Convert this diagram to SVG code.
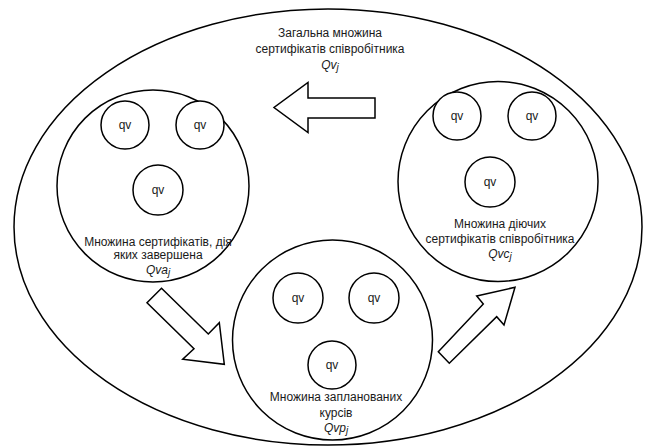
<svg xmlns="http://www.w3.org/2000/svg" width="645" height="448" viewBox="0 0 645 448">
<style>
.sh{fill:#fff;stroke:#000;stroke-width:1.5}
.ar{fill:#fff;stroke:#000;stroke-width:1.5;stroke-linejoin:miter}
text{font-family:"Liberation Sans",Arial,sans-serif;font-size:12px;fill:#1a1a1a;text-anchor:middle}
.it{font-style:italic}
.sub{font-size:10px;font-style:italic}
</style>
<rect width="645" height="448" fill="#fff"/>
<g id="all">
<ellipse class="sh" cx="328" cy="227" rx="314" ry="218"/>
<text x="330" y="37">Загальна множина</text>
<text x="330" y="53">сертифікатів співробітника</text>
<text x="330" y="69"><tspan class="it">Qv</tspan><tspan class="sub" dy="2">j</tspan></text>
</g>
<g id="connectors">
<polygon class="ar" points="375,98 308,98 308,82.5 274,107.5 308,132.5 308,118 375,118"/>
<polygon class="ar" points="161.5,288.3 208.3,334 219.3,322.7 224.3,364.3 182.7,359.3 194,348.7 147,302.8"/>
<polygon class="ar" points="438.3,351.7 483.3,304 476.7,296 515,287.3 504,325 496.7,316.7 449.3,363.3"/>
</g>
<g id="qva">
<circle class="sh" cx="153" cy="186" r="96"/>
<g id="qva-1"><circle class="sh" cx="125" cy="125" r="24"/><text x="125" y="129">qv</text></g>
<g id="qva-2"><circle class="sh" cx="200" cy="125" r="24"/><text x="200" y="129">qv</text></g>
<g id="qva-3"><circle class="sh" cx="158" cy="190" r="25"/><text x="158" y="194">qv</text></g>
<text x="158" y="246">Множина сертифікатів, дія</text>
<text x="158" y="259">яких завершена</text>
<text x="158" y="274"><tspan class="it">Qva</tspan><tspan class="sub" dy="2">j</tspan></text>
</g>
<g id="qvc">
<circle class="sh" cx="498" cy="181.5" r="100"/>
<g id="qvc-1"><circle class="sh" cx="457" cy="116" r="24"/><text x="457" y="120">qv</text></g>
<g id="qvc-2"><circle class="sh" cx="532" cy="116" r="24"/><text x="532" y="120">qv</text></g>
<g id="qvc-3"><circle class="sh" cx="490" cy="182" r="25"/><text x="490" y="186">qv</text></g>
<text x="500" y="228">Множина діючих</text>
<text x="500" y="243">сертифікатів співробітника</text>
<text x="500" y="258"><tspan class="it">Qvc</tspan><tspan class="sub" dy="2">j</tspan></text>
</g>
<g id="qvp">
<circle class="sh" cx="332.5" cy="340" r="100"/>
<g id="qvp-1"><circle class="sh" cx="298" cy="298" r="25"/><text x="298" y="302">qv</text></g>
<g id="qvp-2"><circle class="sh" cx="374" cy="298" r="25"/><text x="374" y="302">qv</text></g>
<g id="qvp-3"><circle class="sh" cx="332" cy="365" r="24"/><text x="332" y="369">qv</text></g>
<text x="336" y="401">Множина запланованих</text>
<text x="336" y="417">курсів</text>
<text x="336" y="432"><tspan class="it">Qvp</tspan><tspan class="sub" dy="2">j</tspan></text>
</g>
</svg>
